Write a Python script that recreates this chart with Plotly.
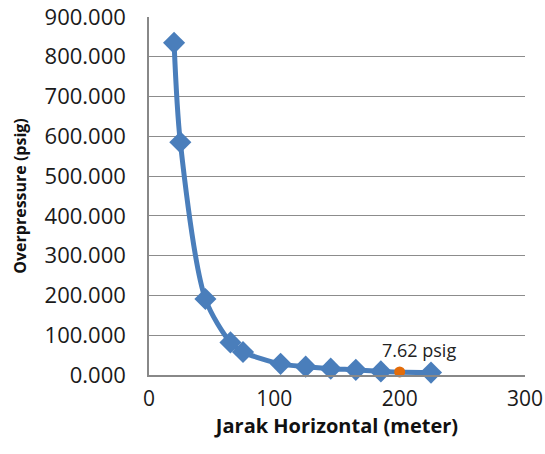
import plotly.graph_objects as go

distance_m = [20, 25, 45, 65, 75, 105, 125, 145, 165, 185, 225]
overpressure_psig = [835, 585, 191, 82, 58, 28, 21, 16, 13, 9, 6]
marked_distance = [200]
marked_pressure = [7.62]
marked_label = "7.62 psig"

x_ticks = [0, 100, 200, 300]
y_ticks = [0, 100, 200, 300, 400, 500, 600, 700, 800, 900]

blue = "#4A7EBB"
orange = "#E36C0A"
font_family = "Open Sans, Liberation Sans, sans-serif"

fig = go.Figure()
fig.add_trace(go.Scatter(
    x=distance_m, y=overpressure_psig, mode="lines+markers",
    line=dict(color=blue, width=5, shape="spline", smoothing=0.8),
    marker=dict(symbol="diamond", size=17, color=blue),
    showlegend=False, cliponaxis=False,
))
fig.add_trace(go.Scatter(
    x=marked_distance, y=marked_pressure, mode="markers",
    marker=dict(symbol="circle", size=11, color=orange),
    showlegend=False, cliponaxis=False,
))
fig.add_annotation(
    x=marked_distance[0], y=marked_pressure[0], text=marked_label,
    showarrow=False, yshift=22, xshift=19,
    font=dict(family=font_family, size=18, color="#222222"),
)

fig.update_layout(
    width=545, height=454,
    margin=dict(l=149, r=20, t=17, b=79, autoexpand=False),
    paper_bgcolor="white", plot_bgcolor="white",
    font=dict(family=font_family, color="#1a1a1a"),
    xaxis=dict(
        range=[0, 300], tickvals=x_ticks, showgrid=False,
        showline=True, linecolor="#888888", linewidth=1.5,
        ticks="", zeroline=False, automargin=False, ticklabelstandoff=4,
        tickfont=dict(size=21, color="#1a1a1a"),
        title=dict(text="<b>Jarak Horizontal (meter)</b>", font=dict(size=20, color="#111111"), standoff=7),
    ),
    yaxis=dict(
        range=[0, 900], tickvals=y_ticks, tickformat=".3f",
        showgrid=True, gridcolor="#8c8c8c", gridwidth=1.2,
        showline=True, linecolor="#888888", linewidth=1.5,
        ticks="", zeroline=False, ticklabelstandoff=17, automargin=False,
        tickfont=dict(size=22, color="#1a1a1a"),
        title=dict(text="<b>Overpressure (psig)</b>", font=dict(size=16, color="#111111"), standoff=14),
    ),
)

fig.write_html("out.html", config={"displayModeBar": False},
               post_script="document.body.style.margin='0';")
